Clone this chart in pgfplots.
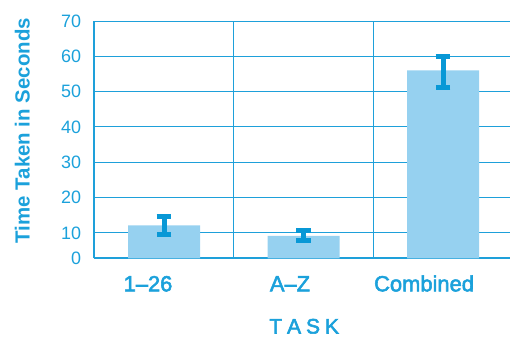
\documentclass[border=0pt]{standalone}
\usepackage{pgfplots}
\pgfplotsset{compat=1.18}
\usepackage{fontspec}
\setmainfont{Liberation Sans}
\newcommand\med[1]{\special{pdf:literal direct 2 Tr 0.55 w}#1\special{pdf:literal direct 0 Tr}}
\definecolor{txtc}{RGB}{27,161,219}
\definecolor{barc}{RGB}{150,209,240}
\definecolor{errc}{RGB}{8,152,214}
\definecolor{gridc}{RGB}{30,160,218}
\begin{document}
\begin{tikzpicture}
\begin{axis}[
  scale only axis, width=415.7bp, height=237.3bp,
  xmin=-0.5, xmax=2.48, ymin=2.8, ymax=70,
  axis x line*=bottom, axis y line*=left,
  axis line style={draw=gridc, line width=2.2bp, -},
  xtick={-0.115,0.903,1.864}, xticklabels={\med{1\textendash 26}, \med{A\textendash Z}, \med{Combined}},
  minor xtick={0.5,1.5}, xminorgrids,
  ytick={2.8,10,20,30,40,50,60,70},
  yticklabels={0,10,20,30,40,50,60,70},
  ymajorgrids,
  major tick length=0pt, minor tick length=0pt,
  grid style={draw=gridc, line width=1bp},
  minor grid style={draw=gridc, line width=1bp},
  yticklabel style={font=\fontsize{18}{20}\selectfont, text=txtc, anchor=east, inner sep=0pt, xshift=-13bp},
  xticklabel style={font=\fontsize{22}{24}\selectfont, text=txtc, anchor=base, inner sep=0pt, yshift=-33bp},
  ylabel={Time Taken in Seconds},
  ylabel style={font=\fontsize{20.5}{24}\selectfont\bfseries, text=txtc, at={([xshift=-72bp,yshift=9bp]axis description cs:0,0.5)}, anchor=center},
  xlabel={\med{T\kern5pt A\kern5pt S\kern5pt K}},
  xlabel style={font=\fontsize{21}{24}\selectfont, text=txtc, at={([xshift=2bp,yshift=-68bp]axis description cs:0.5,0)}, anchor=center},
]
\addplot[ybar, bar width=72bp, fill=barc, draw=none,
  error bars/.cd, y dir=both, y explicit,
  error bar style={line width=5bp, draw=errc},
  error mark options={rotate=90, line width=5bp, mark size=7.3bp, draw=errc}]
  table[x=x, y=y, y error plus=ep, y error minus=em] {
x y ep em
0 12.16 2.6 2.6
1 9.16 1.55 1.45
2 56.0 3.9 4.7
};
\coordinate (sw) at (rel axis cs:0,0);
\coordinate (ne) at (rel axis cs:1,1);
\end{axis}
\pgfresetboundingbox
\path[use as bounding box] ([xshift=-94.3bp,yshift=-79bp]sw) rectangle ([yshift=21bp]ne);
\end{tikzpicture}
\end{document}
